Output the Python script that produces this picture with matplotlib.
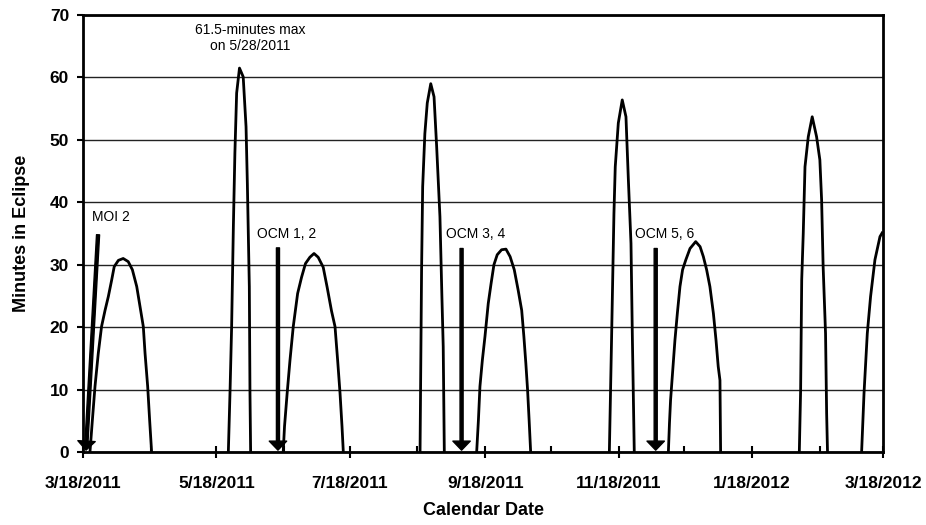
import numpy as np
import matplotlib
matplotlib.use("Agg")
import matplotlib.pyplot as plt
import matplotlib.dates as mdates

plt.rcParams['font.family'] = ['Liberation Sans', 'DejaVu Sans']

# day offsets from 3/18/2011 and minutes in eclipse
start = mdates.datestr2num('2011-03-18')

hump1_days = [3.2, 4.3, 5.5, 7.0, 8.5, 10.1, 11.6, 13.1, 14.3, 16.2, 18.4,
              20.7, 22.6, 24.6, 26.1, 27.6, 28.4, 29.6, 30.5, 31.4]
hump1_min = [0, 5.1, 10.5, 15.8, 20.1, 22.7, 24.9, 27.5, 29.7, 30.7, 31.0,
             30.5, 29.2, 26.5, 23.3, 20.1, 15.8, 10.5, 5.1, 0]

spike1_days = [66.5, 67.3, 68.0, 68.8, 69.5, 70.3, 71.6, 73.3, 74.6, 75.2, 76.1, 76.4, 76.7]
spike1_min = [0, 10, 20, 36.1, 47.9, 57.5, 61.5, 60.1, 52.1, 43.0, 26.5, 9.4, 0]

hump2_days = [91.6, 92.2, 93.4, 94.7, 96.2, 98.2, 100.0, 101.8, 103.8, 105.7,
              107.6, 109.9, 111.7, 113.7, 115.3, 116.5, 117.6, 118.5, 119.1]
hump2_min = [0, 4.1, 9.4, 14.7, 20.1, 25.4, 28.0, 30.2, 31.2, 31.8,
             31.2, 29.6, 26.4, 22.6, 20.1, 14.7, 9.4, 4.1, 0]

spike2_days = [154.2, 154.9, 155.4, 156.4, 157.5, 159.1, 160.6, 161.8, 163.3, 164.2, 164.8, 165.3]
spike2_min = [0, 29.2, 42.5, 51.0, 55.9, 59.0, 56.9, 48.9, 37.7, 24.9, 16.9, 0]

hump3_days = [180.1, 180.9, 181.6, 182.7, 183.9, 185.4, 186.7, 188.0, 189.5, 191.5,
              193.5, 195.4, 197.3, 199.1, 200.7, 201.7, 202.6, 203.4, 204.1, 204.8]
hump3_min = [0, 5.1, 10.5, 14.7, 18.5, 23.8, 27.0, 30.0, 31.6, 32.4,
             32.5, 31.3, 29.2, 25.9, 22.7, 18.5, 14.2, 9.9, 5.1, 0]

spike3_days = [240.8, 241.8, 242.9, 243.5, 244.9, 246.7, 248.4, 249.5, 250.7, 251.3, 252.2]
spike3_min = [0, 17.9, 38.2, 45.7, 52.7, 56.4, 53.7, 43.6, 33.4, 19.0, 0]

hump4_days = [267.8, 268.3, 268.8, 269.8, 270.8, 271.9, 273.1, 274.3, 275.8, 277.7,
              280.3, 282.3, 283.8, 285.3, 286.8, 288.4, 289.6, 290.6, 291.4, 291.7]
hump4_min = [0, 4.6, 8.3, 13.1, 17.9, 22.2, 26.5, 29.2, 30.8, 32.6,
             33.7, 32.9, 31.3, 29.2, 26.5, 22.2, 17.9, 13.7, 11.5, 0]

spike4_days = [327.7, 328.3, 328.8, 329.5, 330.3, 331.8, 333.6, 335.6, 337.1, 337.9, 338.6, 339.7, 340.2, 340.6]
spike4_min = [0, 9.9, 27.6, 35.0, 45.7, 50.5, 53.7, 50.5, 46.8, 40.4, 29.7, 19.0, 6.2, 0]

last_days = [356.2, 357.3, 358.8, 360.3, 362.3, 364.6, 365.6]
last_min = [0, 9.4, 19.0, 24.9, 30.8, 34.5, 35.1]

# maneuver markers: label, label position, arrow tail, arrow tip
event_labels = ['MOI 2', 'OCM 1, 2', 'OCM 3, 4', 'OCM 5, 6']
label_days = [4.1, 79.5, 166.1, 252.5]
label_min = [37.6, 35.0, 35.0, 35.0]
arrow_top_days = [6.9, 89.2, 173.2, 262.0]
arrow_top_min = [34.8, 32.7, 32.6, 32.6]
arrow_tip_days = [1.4, 89.2, 173.2, 262.0]

fig = plt.figure(figsize=(9.26, 5.25), dpi=100)
ax = fig.add_axes([0.0896, 0.139, 0.864, 0.8324])

curves = [(hump1_days, hump1_min), (spike1_days, spike1_min),
          (hump2_days, hump2_min), (spike2_days, spike2_min),
          (hump3_days, hump3_min), (spike3_days, spike3_min),
          (hump4_days, hump4_min), (spike4_days, spike4_min),
          (last_days, last_min)]
for d, m in curves:
    ax.plot(start + np.array(d), m, color='black', lw=2.0, zorder=3)

for i in range(len(event_labels)):
    ax.annotate('', xy=(start + arrow_tip_days[i], 0.3),
                xytext=(start + arrow_top_days[i], arrow_top_min[i]),
                arrowprops=dict(facecolor='black', edgecolor='black', width=2.2,
                                headwidth=12.5, headlength=6.5, shrink=0),
                zorder=4)
    ax.text(start + label_days[i], label_min[i], event_labels[i],
            fontsize=10, ha='left', va='center')

ax.text(start + 76.4, 66.3, '61.5-minutes max\non 5/28/2011', fontsize=10,
        ha='center', va='center', linespacing=1.15)

ax.set_xlim(start, start + 366)
ax.set_ylim(0, 70)
ax.set_yticks(range(0, 71, 10))
ax.yaxis.grid(True, color='#222222', lw=1.0)
ax.set_axisbelow(True)

ax.xaxis.set_major_locator(mdates.MonthLocator(bymonth=[1, 3, 5, 7, 9, 11], bymonthday=18))
ax.xaxis.set_minor_locator(mdates.MonthLocator(bymonth=[2, 4, 6, 8, 10, 12], bymonthday=18))
ax.xaxis.set_major_formatter(plt.FuncFormatter(
    lambda v, p: '%d/%d/%d' % (mdates.num2date(v).month, mdates.num2date(v).day, mdates.num2date(v).year)))

ax.tick_params(axis='x', which='major', direction='inout', length=8, width=1.5,
               labelsize=12.5, pad=13)
ax.tick_params(axis='x', which='minor', direction='in', length=4, width=1.5)
ax.tick_params(axis='y', direction='out', length=4, width=1.5, labelsize=12.5, pad=6)
for lab in ax.get_xticklabels() + ax.get_yticklabels():
    lab.set_fontweight('bold')

for s in ax.spines.values():
    s.set_linewidth(2)
    s.set_color('black')

ax.set_xlabel('Calendar Date', fontsize=13, fontweight='bold', labelpad=8)
ax.set_ylabel('Minutes in Eclipse', fontsize=13, fontweight='bold', labelpad=14)

fig.savefig('out.png', dpi=100)
